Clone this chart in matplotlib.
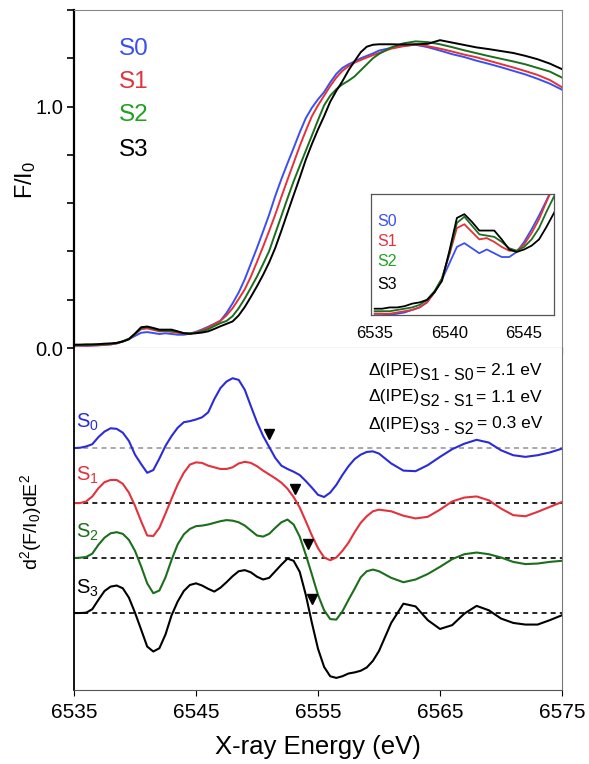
import numpy as np
import matplotlib
matplotlib.use("Agg")
import matplotlib.pyplot as plt

plt.rcParams['font.family'] = ['Liberation Sans', 'DejaVu Sans']
plt.rcParams['mathtext.fontset'] = 'custom'
plt.rcParams['mathtext.rm'] = 'Liberation Sans'
plt.rcParams['mathtext.it'] = 'Liberation Sans:italic'

# energy grid shared by all spectra (eV)
energy = [6535.0, 6535.5, 6536.0, 6536.5, 6537.0, 6537.5, 6538.0, 6538.5, 6539.0, 6539.5,
          6540.0, 6540.5, 6541.0, 6541.5, 6542.0, 6542.5, 6543.0, 6543.5, 6544.0, 6544.5,
          6545.0, 6545.5, 6546.0, 6546.5, 6547.0, 6547.5, 6548.0, 6548.5, 6549.0, 6549.5,
          6550.0, 6550.5, 6551.0, 6551.5, 6552.0, 6552.5, 6553.0, 6553.5, 6554.0, 6554.5,
          6555.0, 6555.5, 6556.0, 6556.5, 6557.0, 6557.5, 6558.0, 6558.5, 6559.0, 6559.5,
          6560, 6561, 6562, 6563, 6564, 6565, 6566, 6567, 6568, 6569,
          6570, 6571, 6572, 6573, 6574, 6575]

# ---- normalized fluorescence F/I0 ----
f_s0 = [0.010, 0.010, 0.009, 0.010, 0.011, 0.013, 0.015, 0.019, 0.027, 0.037,
        0.050, 0.063, 0.066, 0.062, 0.058, 0.061, 0.058, 0.055, 0.055, 0.059,
        0.067, 0.077, 0.088, 0.100, 0.113, 0.145, 0.185, 0.230, 0.285, 0.350,
        0.415, 0.483, 0.553, 0.630, 0.700, 0.765, 0.828, 0.893, 0.952, 0.995,
        1.030, 1.060, 1.100, 1.135, 1.160, 1.175, 1.187, 1.200, 1.210, 1.220,
        1.232, 1.243, 1.252, 1.256, 1.246, 1.232, 1.217, 1.205, 1.190, 1.177,
        1.163, 1.148, 1.133, 1.115, 1.095, 1.070]
f_s1 = [0.010, 0.010, 0.010, 0.011, 0.012, 0.013, 0.015, 0.019, 0.027, 0.038,
        0.057, 0.078, 0.081, 0.075, 0.069, 0.070, 0.067, 0.063, 0.060, 0.060,
        0.065, 0.074, 0.085, 0.099, 0.112, 0.135, 0.165, 0.203, 0.243, 0.296,
        0.357, 0.420, 0.485, 0.553, 0.626, 0.697, 0.766, 0.836, 0.900, 0.960,
        1.005, 1.045, 1.085, 1.120, 1.148, 1.167, 1.182, 1.193, 1.203, 1.213,
        1.222, 1.240, 1.250, 1.257, 1.250, 1.240, 1.228, 1.215, 1.204, 1.190,
        1.176, 1.162, 1.147, 1.131, 1.110, 1.080]
f_s2 = [0.012, 0.012, 0.012, 0.013, 0.014, 0.015, 0.017, 0.021, 0.028, 0.038,
        0.058, 0.082, 0.087, 0.080, 0.073, 0.072, 0.071, 0.067, 0.062, 0.060,
        0.063, 0.069, 0.078, 0.091, 0.103, 0.112, 0.132, 0.165, 0.205, 0.250,
        0.296, 0.348, 0.402, 0.475, 0.547, 0.620, 0.690, 0.754, 0.817, 0.880,
        0.944, 1.005, 1.045, 1.072, 1.092, 1.107, 1.125, 1.150, 1.175, 1.200,
        1.218, 1.245, 1.262, 1.270, 1.267, 1.258, 1.246, 1.233, 1.221, 1.209,
        1.198, 1.187, 1.175, 1.160, 1.145, 1.120]
f_s3 = [0.014, 0.014, 0.015, 0.015, 0.016, 0.018, 0.019, 0.021, 0.027, 0.036,
        0.060, 0.086, 0.089, 0.083, 0.076, 0.076, 0.076, 0.069, 0.061, 0.059,
        0.061, 0.064, 0.069, 0.079, 0.090, 0.100, 0.110, 0.135, 0.170, 0.212,
        0.256, 0.303, 0.355, 0.415, 0.486, 0.560, 0.633, 0.705, 0.780, 0.845,
        0.905, 0.960, 1.020, 1.065, 1.105, 1.150, 1.188, 1.225, 1.248, 1.256,
        1.258, 1.258, 1.257, 1.258, 1.260, 1.275, 1.265, 1.255, 1.245, 1.238,
        1.230, 1.222, 1.210, 1.196, 1.178, 1.155]

# ---- second derivatives (arbitrary units, before vertical offset) ----
d_s0 = [0.0, 0.006, 0.03, 0.07, 0.2, 0.3, 0.36, 0.35, 0.28, 0.13,
        -0.12, -0.29, -0.45, -0.4, -0.19, 0.04, 0.22, 0.37, 0.47, 0.49,
        0.52, 0.56, 0.65, 0.89, 1.09, 1.21, 1.27, 1.24, 1.06, 0.76,
        0.47, 0.22, 0.02, -0.18, -0.32, -0.38, -0.43, -0.49, -0.6, -0.72,
        -0.85, -0.89, -0.81, -0.67, -0.49, -0.33, -0.2, -0.12, -0.07, -0.06,
        -0.1, -0.28, -0.41, -0.42, -0.31, -0.16, -0.02, 0.08, 0.15, 0.1,
        -0.04, -0.13, -0.16, -0.13, -0.08, -0.01]
d_s1 = [0.0, 0.0, 0.03, 0.12, 0.27, 0.38, 0.42, 0.42, 0.35, 0.19,
        -0.05, -0.33, -0.59, -0.6, -0.45, -0.19, 0.08, 0.34, 0.55, 0.7,
        0.74, 0.73, 0.68, 0.65, 0.62, 0.62, 0.65, 0.72, 0.75, 0.73,
        0.67, 0.59, 0.52, 0.45, 0.37, 0.26, 0.11, -0.08, -0.33, -0.59,
        -0.82, -0.99, -1.04, -0.99, -0.87, -0.72, -0.53, -0.36, -0.24, -0.15,
        -0.12, -0.15, -0.23, -0.28, -0.25, -0.12, 0.03, 0.1, 0.12, 0.05,
        -0.1, -0.22, -0.24, -0.16, -0.07, 0.02]
d_s2 = [0.0, 0.006, 0.02, 0.08, 0.24, 0.37, 0.45, 0.47, 0.44, 0.33,
        0.13, -0.15, -0.46, -0.64, -0.59, -0.35, -0.03, 0.25, 0.43, 0.53,
        0.58, 0.59, 0.61, 0.64, 0.67, 0.69, 0.68, 0.65, 0.59, 0.5,
        0.41, 0.39, 0.44, 0.55, 0.65, 0.7, 0.61, 0.39, 0.06, -0.3,
        -0.67, -0.95, -1.11, -1.12, -0.97, -0.76, -0.56, -0.35, -0.24, -0.21,
        -0.24, -0.36, -0.44, -0.39, -0.29, -0.16, -0.02, 0.07, 0.1, 0.07,
        0.01, -0.07, -0.11, -0.1, -0.07, -0.05]
d_s3 = [0.0, 0.0, 0.006, 0.07, 0.24, 0.4, 0.48, 0.5, 0.45, 0.28,
        0.006, -0.3, -0.61, -0.7, -0.64, -0.39, -0.04, 0.21, 0.4, 0.51,
        0.54, 0.5, 0.44, 0.39, 0.46, 0.56, 0.67, 0.76, 0.78, 0.74,
        0.66, 0.61, 0.64, 0.76, 0.88, 0.99, 0.95, 0.75, 0.33, -0.18,
        -0.65, -0.98, -1.15, -1.18, -1.15, -1.1, -1.08, -1.05, -0.99, -0.87,
        -0.69, -0.18, 0.17, 0.12, -0.13, -0.29, -0.22, -0.01, 0.13, 0.05,
        -0.1, -0.18, -0.21, -0.21, -0.13, -0.04]

offsets = [3, 2, 1, 0]
ipe_energy = [6551.0, 6553.1, 6554.2, 6554.5]
ipe_pairs = ["S1 - S0", "S2 - S1", "S3 - S2"]
ipe_shift = ["2.1 eV", "1.1 eV", "0.3 eV"]

labels = ["S0", "S1", "S2", "S3"]
sub_labels = [r"S$_\mathregular{0}$", r"S$_\mathregular{1}$", r"S$_\mathregular{2}$", r"S$_\mathregular{3}$"]
line_colors = ["#3a4ff0", "#e2323c", "#1c6e1c", "#000000"]
text_colors = ["#3a4ff0", "#e2323c", "#22a022", "#000000"]
deriv_colors = ["#2b2bd8", "#e2323c", "#1c6e1c", "#000000"]

spectra = [f_s0, f_s1, f_s2, f_s3]
derivs = [d_s0, d_s1, d_s2, d_s3]

fig = plt.figure(figsize=(5.89, 7.64), dpi=100)
W, H = 589, 764
def box(x0, y0, x1, y1):
    return [x0 / W, 1 - y1 / H, (x1 - x0) / W, (y1 - y0) / H]

ax1 = fig.add_axes(box(74, 10, 562, 348))
ax2 = fig.add_axes(box(74, 348, 562, 690))

# top panel
for f, c in zip(spectra, line_colors):
    ax1.plot(energy, f, color=c, lw=1.4)
ax1.set_xlim(6535, 6575)
ax1.set_ylim(0, 1.4)
ax1.set_xticks(np.arange(6535, 6576, 5))
ax1.tick_params(axis='x', direction='out', length=4, labelbottom=False)
ax1.set_yticks(np.arange(0, 1.41, 0.2))
ax1.set_yticklabels(["0.0", "", "", "", "", "1.0", "", ""], fontsize=14.5)
ax1.tick_params(axis='y', direction='out', length=5, width=1.2, pad=3)
for s in ['top', 'right']:
    ax1.spines[s].set_color('#888888')
ax1.spines['bottom'].set_color('#333333')
ax1.spines['left'].set_linewidth(1.6)
label_y = [1.24, 1.10, 0.965, 0.82]
for lab, c, y in zip(labels, text_colors, label_y):
    ax1.text(6538.7, y, lab, color=c, fontsize=17.5, va='center', ha='left')

# inset: pre-edge region
axi = fig.add_axes(box(371, 194, 554, 315))
for f, c in zip(spectra, line_colors):
    axi.plot(energy, f, color=c, lw=1.3)
axi.set_xlim(6534.75, 6547.0)
axi.set_ylim(0.009, 0.105)
axi.set_yticks([])
axi.set_xticks([6535, 6540, 6545])
axi.tick_params(axis='x', length=0, labelsize=12, pad=8)
for s in axi.spines.values():
    s.set_color('#555555')
    s.set_linewidth(0.9)
inset_y = [0.77, 0.61, 0.44, 0.25]
for lab, c, y in zip(labels, text_colors, inset_y):
    axi.text(0.035, y, lab, color=c, fontsize=11.5, va='center', ha='left',
             transform=axi.transAxes)

# bottom panel: second derivatives
for off in offsets:
    ax2.plot([6535, 6575], [off, off], ls=(0, (3, 2.5)), lw=1.2,
             color='#999999' if off == 3 else 'black', zorder=1)
for d, off, c in zip(derivs, offsets, deriv_colors):
    ax2.plot(energy, np.array(d) + off, color=c, lw=1.5, zorder=2, solid_joinstyle='round')
for e_ipe, off in zip(ipe_energy, offsets):
    ax2.plot(e_ipe, off + 0.25, marker='v', color='black', ms=6.5, zorder=3)
for lab, c, off, dy in zip(sub_labels, deriv_colors, offsets, [0.47, 0.5, 0.47, 0.45]):
    ax2.text(6535.2, off + dy, lab, color=c, fontsize=14.5, va='center', ha='left')

ax2.set_xlim(6535, 6575)
ax2.set_ylim(-1.4, 4.82)
ax2.set_yticks([])
ax2.set_xticks(np.arange(6535, 6576, 10))
ax2.tick_params(axis='x', direction='out', length=4, labelsize=15, pad=5)
ax2.spines['top'].set_visible(False)
ax2.spines['right'].set_color('#777777')
ax2.spines['bottom'].set_color('#555555')
ax2.spines['left'].set_linewidth(1.3)

# IPE shift annotations, built piecewise so the subscript keeps its size
renderer = fig.canvas.get_renderer()
x_right = 542
for i, (pair, shift) in enumerate(zip(ipe_pairs, ipe_shift)):
    yb = H - (370 + 27 * i)
    t3 = fig.text(x_right / W, yb / H, "= " + shift, ha='right', va='center', fontsize=12.5)
    x3 = t3.get_window_extent(renderer).x0
    t2 = fig.text((x3 - 3) / W, (yb - 5) / H, pair, ha='right', va='center', fontsize=11.5)
    x2 = t2.get_window_extent(renderer).x0
    fig.text(x2 / W, yb / H, "\u0394(IPE)", ha='right', va='center', fontsize=12.5)

fig.text(26 / W, 1 - 180 / H, r"F/I$_\mathregular{0}$", rotation=90, fontsize=17,
         ha='center', va='center')
fig.text(31 / W, 1 - 522 / H, r"d$^\mathregular{2}$(F/I$_\mathregular{0}$)dE$^\mathregular{2}$",
         rotation=90, fontsize=14, ha='center', va='center')
fig.text(318 / W, 1 - 747 / H, "X-ray Energy (eV)", fontsize=18.5, ha='center', va='center')

fig.savefig("out.png", dpi=100)
